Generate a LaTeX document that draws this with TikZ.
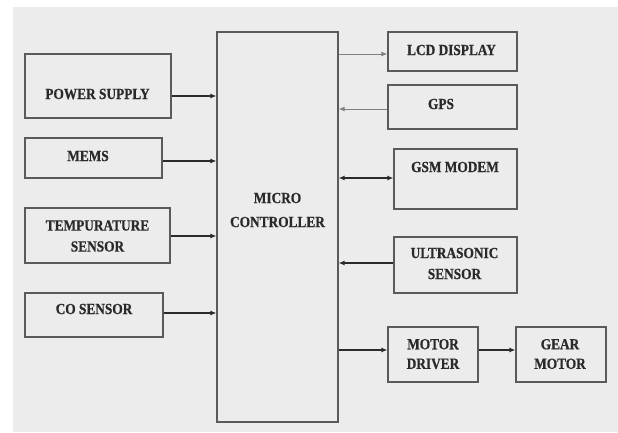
\documentclass[tikz,border=0pt]{standalone}
\usepackage{fontspec}
\setmainfont{Liberation Serif}[FakeStretch=0.86,FakeBold=0.6]
\usetikzlibrary{arrows.meta}
\definecolor{bg}{HTML}{ECECEC}
\definecolor{edge}{HTML}{5A5A5A}
\definecolor{ink}{HTML}{2A2A2A}
\tikzset{
  box/.style={draw=edge, line width=1.2pt, fill=bg, inner sep=0pt},
  lbl/.style={font=\bfseries\fontsize{15.5}{21}\selectfont, text=ink, align=center, inner sep=0pt},
  arr/.style={draw=ink, line width=1.4pt, -{Latex[length=6pt,width=5pt]}},
  darr/.style={draw=ink, line width=1.4pt, {Latex[length=6pt,width=5pt]}-{Latex[length=6pt,width=5pt]}},
  lightarr/.style={draw=black!50, line width=1pt, -{Latex[length=6pt,width=5pt]}}
}
\begin{document}
\begin{tikzpicture}[x=1pt,y=-1pt]
\fill[white] (0,0) rectangle (618,432);
\fill[bg] (13,7) rectangle (618,432);
\useasboundingbox (0,0) rectangle (618,432);
% boxes
\node[box, minimum width=146pt, minimum height=64pt] (ps) at (98,86) {};
\node[box, minimum width=137pt, minimum height=40pt] (mems) at (93.5,158) {};
\node[box, minimum width=145pt, minimum height=55pt] (temp) at (97.5,235.5) {};
\node[box, minimum width=138pt, minimum height=44pt] (co) at (94,315) {};
\node[box, minimum width=121pt, minimum height=390pt] (mc) at (277.5,227) {};
\node[box, minimum width=129pt, minimum height=39pt] (lcd) at (452.5,51.5) {};
\node[box, minimum width=129pt, minimum height=44pt] (gps) at (452.5,107) {};
\node[box, minimum width=123pt, minimum height=60pt] (gsm) at (455.5,179) {};
\node[box, minimum width=123pt, minimum height=56pt] (us) at (455.5,265) {};
\node[box, minimum width=90pt, minimum height=55pt] (md) at (433,354.5) {};
\node[box, minimum width=90pt, minimum height=55pt] (gm) at (561,354.5) {};
% labels
\node[lbl] (tps) at (97.5,94) {POWER SUPPLY};
\node[lbl] (tmems) at (88,156) {MEMS};
\node[lbl] (ttemp) at (97.5,236) {TEMPURATURE\\SENSOR};
\node[lbl] (tco) at (94,309) {CO SENSOR};
\node[lbl, font=\bfseries\fontsize{15.5}{24}\selectfont] (tmc) at (277.5,210) {MICRO\\CONTROLLER};
\node[lbl] (tlcd) at (451.5,50) {LCD DISPLAY};
\node[lbl] (tgps) at (441,104) {GPS};
\node[lbl] (tgsm) at (455,167) {GSM MODEM};
\node[lbl] (tus) at (454.5,263.5) {ULTRASONIC\\SENSOR};
\node[lbl, font=\bfseries\fontsize{15.5}{19.5}\selectfont] (tmd) at (433,354) {MOTOR\\DRIVER};
\node[lbl, font=\bfseries\fontsize{15.5}{19.5}\selectfont] (tgm) at (560,354) {GEAR\\MOTOR};
% anchor coordinates
\coordinate (aps) at ([yshift=-10pt]ps.east);
\coordinate (amems) at ([yshift=-3pt]mems.east);
\coordinate (atemp) at ([yshift=-0.5pt]temp.east);
\coordinate (aco) at ([yshift=2pt]co.east);
\coordinate (alcd) at ([yshift=-2.5pt]lcd.west);
\coordinate (agps) at ([yshift=-2pt]gps.west);
\coordinate (agsm) at ([yshift=1pt]gsm.west);
\coordinate (aus) at ([yshift=2pt]us.west);
\coordinate (amd) at ([yshift=4.5pt]md.west);
\coordinate (amd2) at ([yshift=4.5pt]md.east);
% connectors
\draw[arr] (aps) -- (aps -| mc.west);
\draw[arr] (amems) -- (amems -| mc.west);
\draw[arr, line width=1.1pt] (atemp) -- (atemp -| mc.west);
\draw[arr] (aco) -- (aco -| mc.west);
\draw[lightarr] (alcd -| mc.east) -- (alcd);
\draw[lightarr] (agps) -- (agps -| mc.east);
\draw[darr] (agsm -| mc.east) -- (agsm);
\draw[arr] (aus) -- (aus -| mc.east);
\draw[arr] (amd -| mc.east) -- (amd);
\draw[arr] (amd2) -- (amd2 -| gm.west);
\end{tikzpicture}
\end{document}
